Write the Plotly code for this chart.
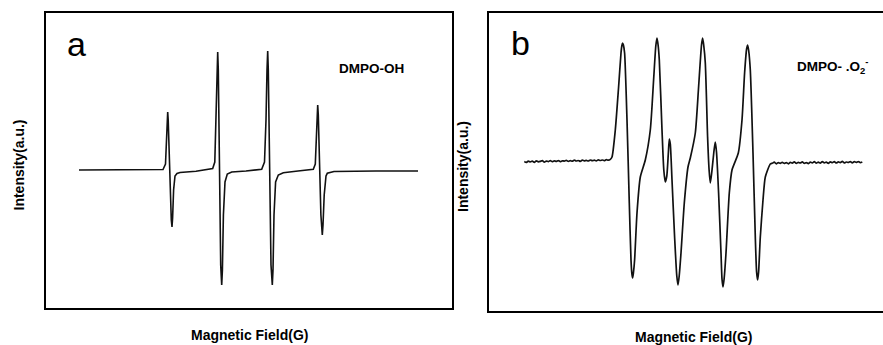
import plotly.graph_objects as go

W, H = 883, 345

# ---- Panel a: DMPO-OH (field offset, intensity; arbitrary units)
field_a = [33, 80, 117, 119.5, 120.5, 121.3, 121.7, 122.2, 123.2, 124.3, 125.3, 126.0, 126.6, 127.6, 129.0, 131.0, 134.0,
           150, 166.7, 168.8, 170.0, 170.9, 171.7, 172.3, 173.5, 174.7, 175.7, 176.4, 177.4, 179.0, 181.3, 185.7,
           200, 215.7, 218.5, 220.0, 221.0, 221.7, 222.3, 223.6, 225.0, 226.3, 227.0, 228.0, 229.6, 232.3, 237.3,
           252, 267.3, 269.3, 270.5, 271.2, 271.7, 272.3, 273.5, 274.9, 276.3, 277.0, 278.2, 280.0, 281.3, 288,
           330, 372]
int_a = [0, 0, 0.5, 6, 30, 52, 58, 50, 10, -35, -50, -57, -48, -20, -6, -3.5, -2.5,
         -1.2, 1.5, 8, 50, 100, 118, 100, 0, -95, -115, -100, -45, -12, -4, -2,
         -1, 0.7, 8, 50, 100, 119, 100, 0, -95, -115, -100, -45, -12, -5, -2.7,
         -1, 0.7, 6, 35, 58, 65, 55, 10, -45, -65, -55, -25, -6, -3.3, -1.5,
         -1, -1]

# ---- Panel b: DMPO-.O2- (field offset, intensity)
# noisy baseline before the signal
base_pre_b = [(35, 0.5), (37, -0.5), (39, 1.0), (41, 0.0), (43, 0.8), (45, -0.3), (47, 1.2), (49, 0.2),
              (51, 0.6), (53, 1.3), (55, -0.2), (57, 1.0), (59, 0.4), (61, 1.4), (63, 0.3), (65, 1.1),
              (67, 0.6), (69, 1.5), (71, 0.4), (73, 1.2), (75, 0.9), (77, 1.7), (79, 0.6), (81, 1.3),
              (83, 0.8), (85, 1.8), (87, 1.0), (89, 1.5), (91, 0.7), (93, 1.9), (95, 1.2), (97, 1.6),
              (99, 1.0), (101, 2.0), (103, 1.3), (105, 1.8), (107, 1.1), (109, 2.2), (111, 1.5), (113, 2.0),
              (115, 1.4), (117, 2.3), (119, 1.8), (121, 2.6)]
# signal region
signal_field_b = [122.7, 126, 129.3, 131.7, 132.6, 133.3, 134.1, 135.3, 137.7, 140, 141.7, 142.6, 143.3, 144.1,
                  145.3, 147.7, 151, 156, 161, 164.3, 166.5, 167.7, 168.8, 170, 172.7, 174.5, 176, 177.5, 179, 180, 181,
                  182.7, 185.3, 187.5, 188.7, 189.9, 191.7, 195, 198.7, 201, 206, 209.3, 212.2, 213.3, 214.4, 216,
                  218.3, 219.8, 221, 222.5, 224.8, 226, 227.2, 229.3, 231.7, 232.7, 233.7, 234.8, 236.7, 240, 242.7,
                  249, 252.7, 255.3, 257.3, 258.3, 259.3, 261, 263.7, 266, 267.3, 268.3, 269.3, 271, 273.7, 276, 281]
signal_int_b = [5, 32, 75, 109, 116.5, 119, 117, 109, 42, -41, -98, -112, -116, -111,
                -98, -51, -15, 2, 32, 82, 116, 124, 117, 102, 32, -8, -20, -14, 8, 23, 18,
                -18, -75, -114, -123, -114, -91, -41, -5, 4, 29, 75, 117, 124, 117, 99,
                25, -8, -21, -10, 12, 20, 10, -31, -91, -117, -125, -117, -91, -31, -8,
                9, 42, 89, 113, 117, 112, 92, 9, -75, -110, -118, -110, -75, -38, -15, -2]
# noisy baseline after the signal
base_post_b = [(283, -1.2), (285, -0.2), (287, -1.8), (289, -0.5), (291, -1.3), (293, -0.3), (295, -1.5), (297, -0.6),
               (299, -1.8), (301, -0.4), (303, -1.1), (305, 0.2), (307, -1.4), (309, -0.3), (311, -1.0), (313, 0.1),
               (315, -1.3), (317, -0.5), (319, -1.6), (321, -0.2), (323, -0.9), (325, 0.3), (327, -1.1), (329, -0.1),
               (331, -1.2), (333, 0.4), (335, -0.8), (337, -0.2), (339, -1.4), (341, 0.2), (343, -0.7), (345, 0.5),
               (347, -1.0), (349, 0.1), (351, -0.6), (353, 0.6), (355, -0.9), (357, 0.0), (359, -0.5), (361, 0.4),
               (363, -0.8), (365, 0.3), (367, -0.4), (369, 0.5), (371, -0.6), (373, 0.1)]

field_b = [p[0] for p in base_pre_b] + signal_field_b + [p[0] for p in base_post_b]
int_b = [p[1] for p in base_pre_b] + signal_int_b + [p[1] for p in base_post_b]

labels = ["a", "b"]
species = ["DMPO-OH", "DMPO- .O<sub>2</sub><sup>-</sup>"]
x_title = "Magnetic Field(G)"
y_title = "Intensity(a.u.)"

FONT = "Arial, Liberation Sans, sans-serif"

fig = go.Figure()
fig.add_trace(go.Scatter(x=field_a, y=int_a, mode="lines", line=dict(color="#111111", width=1.6),
                         xaxis="x", yaxis="y", showlegend=False, hoverinfo="skip"))
fig.add_trace(go.Scatter(x=field_b, y=int_b, mode="lines",
                         line=dict(color="#111111", width=1.7, shape="spline", smoothing=0.6),
                         xaxis="x2", yaxis="y2", showlegend=False, hoverinfo="skip"))

def px_x(p):
    return p / W

def px_y(p):
    return 1 - p / H

axis_common = dict(showgrid=False, zeroline=False, showticklabels=False, ticks="",
                   showline=True, linecolor="black", linewidth=1.5)

fig.update_layout(
    width=W, height=H,
    margin=dict(l=0, r=0, t=0, b=0),
    paper_bgcolor="white", plot_bgcolor="white",
    xaxis=dict(domain=[px_x(46), px_x(452)], range=[0, 406], mirror=True, anchor="y", **axis_common),
    yaxis=dict(domain=[px_y(308), px_y(12.7)], range=[-138, 157.3], mirror=True, anchor="x", **axis_common),
    xaxis2=dict(domain=[px_x(489.3), 1.0], range=[0, 393.7], mirror=True, anchor="y2", **axis_common),
    yaxis2=dict(domain=[px_y(310.5), px_y(12.7)], range=[-148.5, 149.3], mirror=False, anchor="x2", **axis_common),
)

annots = []
# panel letters
annots.append(dict(x=px_x(76), y=px_y(44), text=labels[0], font=dict(family=FONT, size=34, color="black")))
annots.append(dict(x=px_x(520), y=px_y(43), text=labels[1], font=dict(family=FONT, size=34, color="black")))
# species
annots.append(dict(x=px_x(371.5), y=px_y(68), text="<b>" + species[0] + "</b>", font=dict(family=FONT, size=13.5, color="black")))
annots.append(dict(x=px_x(832), y=px_y(66), text="<b>" + species[1] + "</b>", font=dict(family=FONT, size=13.5, color="black")))
# axis titles
annots.append(dict(x=px_x(249), y=px_y(335), text="<b>" + x_title + "</b>", font=dict(family=FONT, size=14, color="black")))
annots.append(dict(x=px_x(693), y=px_y(337), text="<b>" + x_title + "</b>", font=dict(family=FONT, size=14, color="black")))
annots.append(dict(x=px_x(18.5), y=px_y(165), text="<b>" + y_title + "</b>", textangle=-90, font=dict(family=FONT, size=14, color="black")))
annots.append(dict(x=px_x(463), y=px_y(167), text="<b>" + y_title + "</b>", textangle=-90, font=dict(family=FONT, size=14, color="black")))

for a in annots:
    a.update(xref="paper", yref="paper", showarrow=False, xanchor="center", yanchor="middle")
fig.update_layout(annotations=annots)

fig.write_html("out.html")
